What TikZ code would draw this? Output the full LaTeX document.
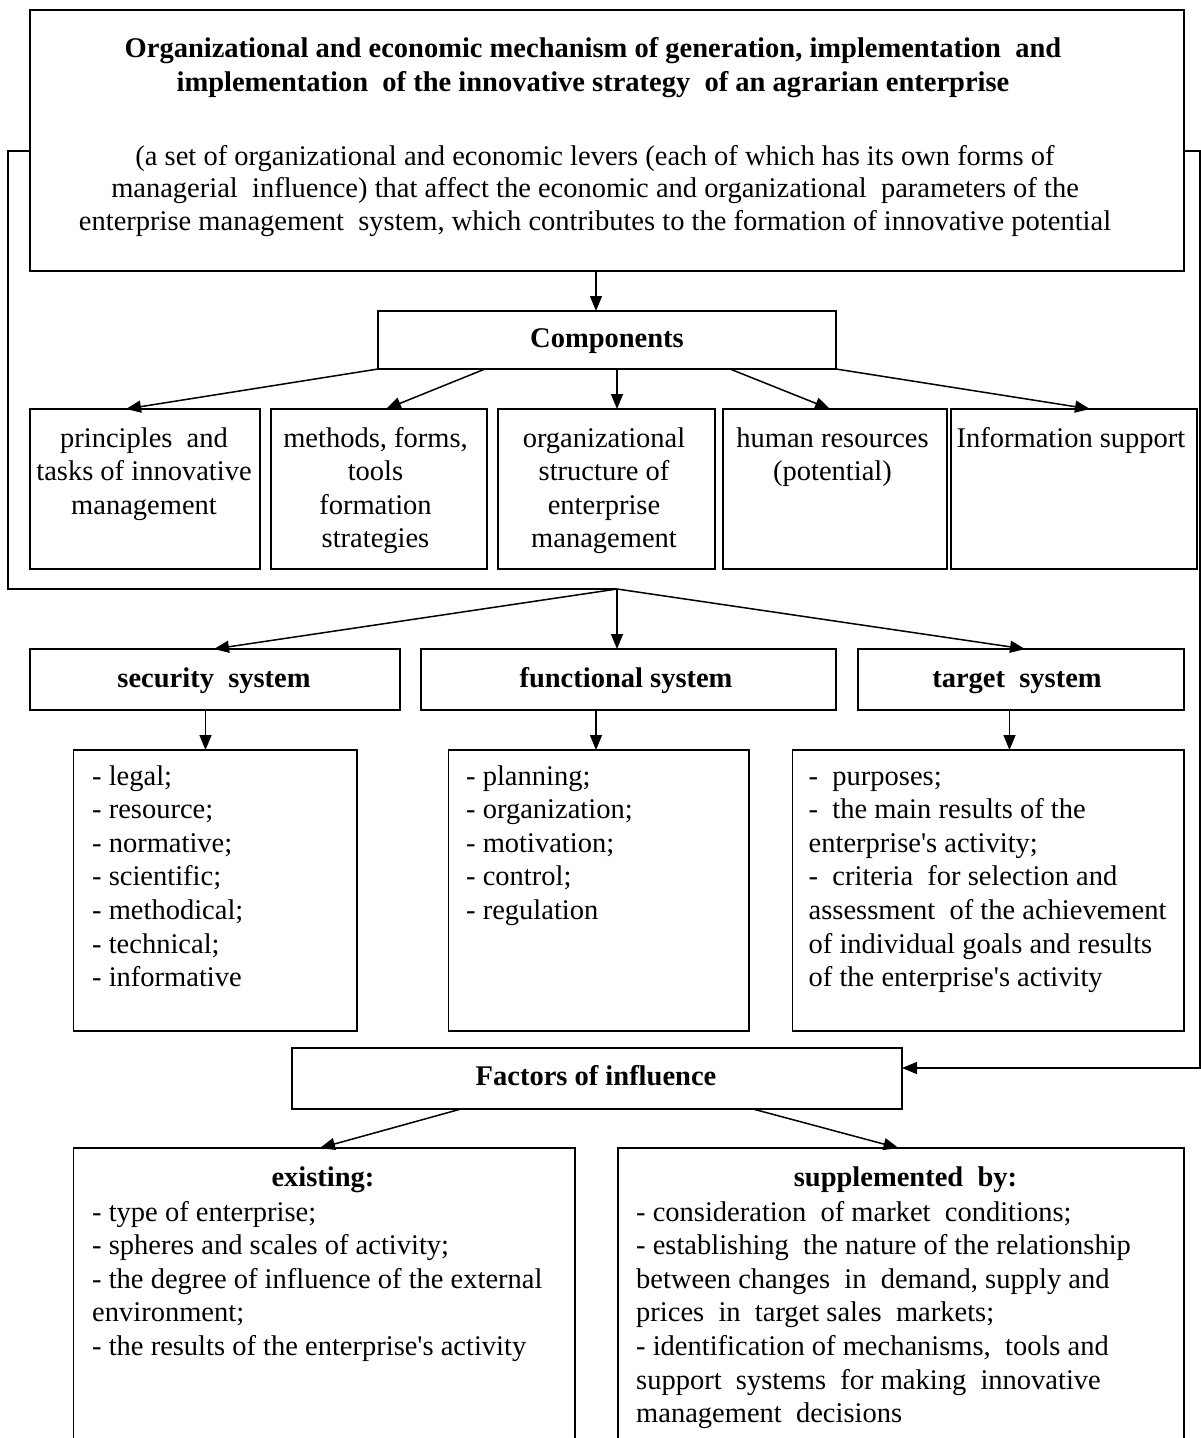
\documentclass[tikz,border=0pt]{standalone}
\usepackage{fontspec}
\setmainfont{Liberation Serif}
\usetikzlibrary{arrows.meta}
\begin{document}
\begin{tikzpicture}[x=1pt,y=-1pt,
  box/.style={draw, line width=1.6pt, inner sep=0pt, outer sep=0pt, anchor=north west},
  arr/.style={line width=1.5pt, -{Triangle[length=15pt,width=12pt]}},
  wire/.style={line width=1.5pt},
  txt/.style={inner sep=0pt, anchor=base, font=\fontsize{28.5}{33.6}\selectfont},
  btxt/.style={inner sep=0pt, anchor=base, font=\fontsize{28.5}{34}\selectfont\bfseries},
  lst/.style={inner sep=0pt, anchor=base west, align=left, font=\fontsize{28.5}{33.6}\selectfont}
]
\useasboundingbox (0,0) rectangle (1201,1438);

% boxes
\node[box, minimum width=1154pt, minimum height=261pt] (top) at (30,10) {};
\node[box, minimum width=458pt, minimum height=58pt] (comp) at (378,311) {};
\node[box, minimum width=230pt, minimum height=160pt] (b1) at (30,409) {};
\node[box, minimum width=216pt, minimum height=160pt] (b2) at (271,409) {};
\node[box, minimum width=217pt, minimum height=160pt] (b3) at (498,409) {};
\node[box, minimum width=224pt, minimum height=160pt] (b4) at (723,409) {};
\node[box, minimum width=246pt, minimum height=160pt] (b5) at (951,409) {};
\node[box, minimum width=370pt, minimum height=61pt] (sec) at (30,649) {};
\node[box, minimum width=415pt, minimum height=61pt] (fun) at (421,649) {};
\node[box, minimum width=326pt, minimum height=61pt] (tar) at (858,649) {};
\node[box, minimum width=283.5pt, minimum height=281pt] (secl) at (73.5,750) {};
\node[box, minimum width=300.5pt, minimum height=281pt] (funl) at (448.5,750) {};
\node[box, minimum width=391.5pt, minimum height=281pt] (tarl) at (792.5,750) {};
\node[box, minimum width=610pt, minimum height=61pt] (fac) at (292,1048) {};
\node[box, minimum width=501.5pt, minimum height=310pt] (exi) at (73.5,1148) {};
\node[box, minimum width=566pt, minimum height=310pt] (sup) at (618,1148) {};

% texts (anchor=base refers to the last line's baseline)
\node[btxt, align=center] (ttl) at (593,91) {Organizational and economic mechanism of generation, implementation\ \ and\\implementation\ \ of the innovative strategy\ \ of an agrarian enterprise};
\node[txt, align=center, font=\fontsize{28.5}{32.5}\selectfont] (sub) at (595,230) {(a set of organizational and economic levers (each of which has its own forms of\\managerial\ \ influence) that affect the economic and organizational\ \ parameters of the\\enterprise management\ \ system, which contributes to the formation of innovative potential};
\node[btxt] (compt) at (607,347) {Components};
\node[txt, align=center] (t1) at (144,514.2) {principles\ \ and\\tasks of innovative\\management};
\node[txt, align=center] (t2) at (375.5,547.8) {methods, forms,\\tools\\formation\\strategies};
\node[txt, align=center] (t3) at (604,547.8) {organizational\\structure of\\enterprise\\management};
\node[txt, align=center] (t4) at (832.5,480.6) {human resources\\(potential)};
\node[txt, align=center] (t5) at (1071,447) {Information support};
\node[btxt] (sect) at (214,687) {security\ \ system};
\node[btxt] (funt) at (626,687) {functional system};
\node[btxt] (tart) at (1017,687) {target\ \ system};
\node[lst] (secx) at (92,986.6) {- legal;\\- resource;\\- normative;\\- scientific;\\- methodical;\\- technical;\\- informative};
\node[lst] (funx) at (466,919.4) {- planning;\\- organization;\\- motivation;\\- control;\\- regulation};
\node[lst] (tarx) at (808.5,986.6) {-\ \ purposes;\\-\ \ the main results of the\\enterprise\textquotesingle s activity;\\-\ \ criteria\ \ for selection and\\assessment\ \ of the achievement\\of individual goals and results\\of the enterprise\textquotesingle s activity};
\node[btxt] (fact) at (596,1085) {Factors of influence};
\node[btxt] (exih) at (323,1186) {existing:};
\node[lst] (exix) at (92,1355.4) {- type of enterprise;\\- spheres and scales of activity;\\- the degree of influence of the external\\environment;\\- the results of the enterprise\textquotesingle s activity};
\node[btxt] (suph) at (905.5,1186) {supplemented\ \ by:};
\node[lst] (supx) at (636,1422.6) {- consideration\ \ of market\ \ conditions;\\- establishing\ \ the nature of the relationship\\between changes\ \ in\ \ demand, supply and\\prices\ \ in\ \ target sales\ \ markets;\\- identification of mechanisms,\ \ tools and\\support\ \ systems\ \ for making\ \ innovative\\management\ \ decisions};

% junction points
\coordinate (jn) at (617,589);
\coordinate (lw) at (8,589);
\coordinate (rw) at (1200,1068);

% connectors
\draw[arr] ([xshift=566pt]top.south west) -- ([xshift=218pt]comp.north west);
\draw[arr] (comp.south west) -- ([xshift=96pt]b1.north west);
\draw[arr] ([xshift=107pt]comp.south west) -- ([xshift=115pt]b2.north west);
\draw[arr] ([xshift=239pt]comp.south west) -- ([xshift=119pt]b3.north west);
\draw[arr] ([xshift=352pt]comp.south west) -- ([xshift=107pt]b4.north west);
\draw[arr] (comp.south east) -- ([xshift=139pt]b5.north west);

\draw[wire] ([yshift=-141pt]top.north west) -| (lw) -- (jn);
\draw[arr] (jn) -- ([xshift=184pt]sec.north west);
\draw[arr] (jn) -- (fun.north -| jn);
\draw[arr] (jn) -- ([xshift=167pt]tar.north west);

\draw[arr] ([xshift=175.5pt]sec.south west) -- ([xshift=132pt]secl.north west);
\draw[arr] ([xshift=175pt]fun.south west) -- ([xshift=147.5pt]funl.north west);
\draw[arr] ([xshift=151.5pt]tar.south west) -- ([xshift=217pt]tarl.north west);

\draw[arr] ([yshift=-141pt]top.north east) -| (rw) -- ([yshift=-20pt]fac.north east);
\draw[arr] ([xshift=169pt]fac.south west) -- ([xshift=246.5pt]exi.north west);
\draw[arr] ([xshift=461pt]fac.south west) -- ([xshift=280.5pt]sup.north west);
\end{tikzpicture}
\end{document}
